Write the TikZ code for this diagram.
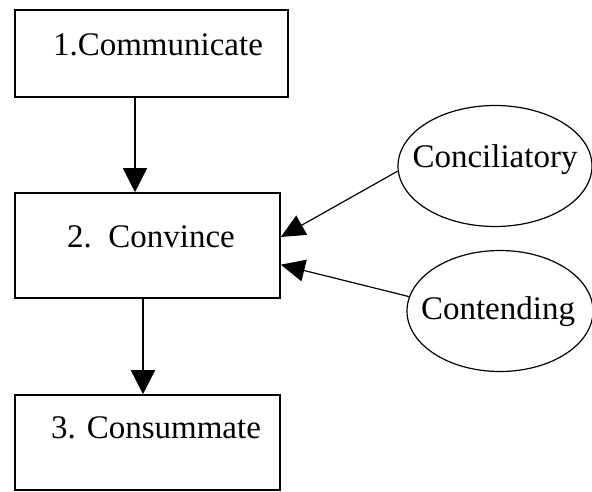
\documentclass[tikz,border=0pt]{standalone}
\usepackage{fontspec}
\setmainfont{Liberation Serif}
\usetikzlibrary{shapes.geometric,arrows.meta,calc}
\tikzset{
  box/.style={draw,line width=1.6pt,rectangle,inner sep=0pt},
  oval/.style={draw,line width=1.2pt,ellipse,inner sep=0pt},
  lbl/.style={inner sep=0pt,font=\fontsize{33}{37}\selectfont},
  arr/.style={line width=1.5pt,-{Triangle[length=24pt,width=24pt]}},
  arrs/.style={line width=1.2pt,-{Triangle[length=24pt,width=22pt]}}
}
\begin{document}
\begin{tikzpicture}[x=1pt,y=1pt]
\useasboundingbox (0,0) rectangle (592,491);
% boxes (y flipped: tikz y = 491 - image y)
\node[box,minimum width=273pt,minimum height=87pt] (b1) at (151.5,437.5) {};
\node[box,minimum width=265pt,minimum height=105pt] (b2) at (147.5,245.5) {};
\node[box,minimum width=265pt,minimum height=95pt] (b3) at (147.5,48.5) {};
\node[lbl] (t1) at (158,446) {1.Communicate};
\node[lbl] (t2) at (151,254) {2.\ \ Convince};
\node[lbl] (t3) at (156,63) {3. Consummate};
% ellipses
\node[oval,minimum width=194pt,minimum height=121pt] (c1) at (495,325) {};
\node[oval,minimum width=186pt,minimum height=121pt] (c2) at (500,180) {};
\node[lbl] (tc1) at (495,331) {Conciliatory};
\node[lbl] (tc2) at (498,179) {Contending};
% connector x positions
\coordinate (x1) at (135,0);
\coordinate (x2) at (143,0);
\draw[arr] (b1.south -| x1) -- (b2.north -| x1);
\draw[arr] (b2.south -| x2) -- (b3.north -| x2);
\coordinate (e1) at ($(b2.north east)!0.42!(b2.south east)$);
\coordinate (e2) at ($(b2.north east)!0.68!(b2.south east)$);
\draw[arrs] (c1.183) -- (e1);
\draw[arrs] (c2.171) -- (e2);
\end{tikzpicture}
\end{document}
